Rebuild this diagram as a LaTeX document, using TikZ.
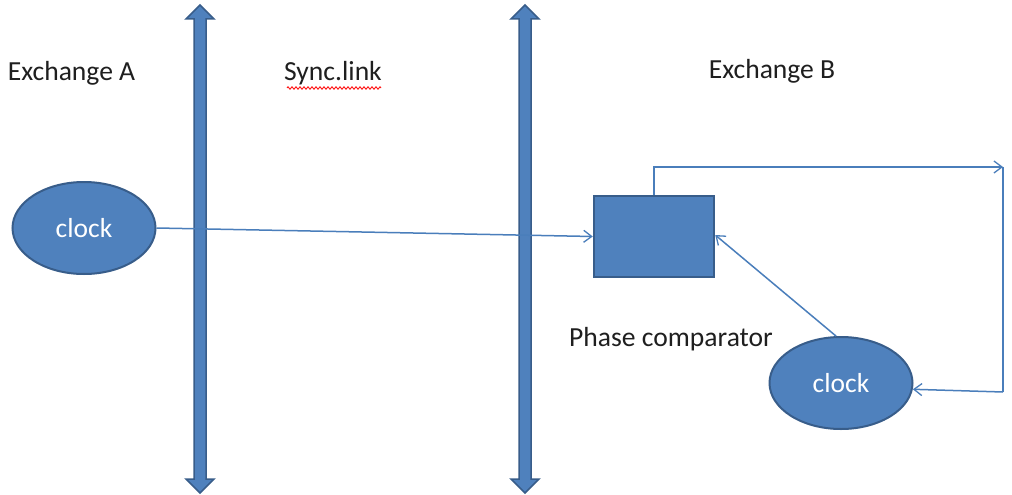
\documentclass[tikz,border=0pt]{standalone}
\usepackage{fontspec}
\setmainfont{Carlito}
\usetikzlibrary{shapes.geometric,arrows.meta,decorations.pathmorphing}
\definecolor{accent}{HTML}{4F81BD}
\definecolor{accentdark}{HTML}{385D8A}
\definecolor{linkblue}{HTML}{4A7EBB}
\definecolor{labeltext}{HTML}{1F1F1F}
\tikzset{
  lbl/.style={font=\fontsize{27.6}{32}\selectfont, text=labeltext, inner sep=0pt},
  clocknode/.style={ellipse, fill=accent, draw=accentdark, line width=2pt,
    minimum width=143pt, minimum height=92pt, inner sep=0pt,
    text=white, font=\fontsize{27.5}{32}\selectfont},
  compbox/.style={rectangle, fill=accent, draw=accentdark, line width=2.5pt,
    minimum width=120pt, minimum height=81pt, inner sep=0pt},
  conn/.style={draw=linkblue, line width=1.5pt, -{Straight Barb[length=8pt,width=12pt,line width=1.3pt]}},
  plain/.style={draw=linkblue, line width=1.5pt},
  dblarrow/.pic={
    \filldraw[fill=accent, draw=accentdark, line width=1.5pt, line join=miter]
      (-6,19) -- (-14,19) -- (0,5) -- (14,19) -- (6,19) -- (6,479)
      -- (14,479) -- (0,493) -- (-14,479) -- (-6,479) -- cycle;
  }
}
\begin{document}
\begin{tikzpicture}[x=1pt, y=-1pt]
\useasboundingbox (0,0) rectangle (1012,495);
\fill[white] (0,0) rectangle (1012,495);

% vertical double arrows
\pic at (200,0) {dblarrow};
\pic at (525,0) {dblarrow};

% labels
\node[lbl] (exA) at (71.5,73) {Exchange A};
\node[lbl] (sync) at (333,73) {Sync.link};
\node[lbl] (exB) at (772,71) {Exchange B};
\node[lbl] (phase) at (671,339) {Phase comparator};
\draw[red, line width=0.8pt, decorate,
  decoration={zigzag, segment length=4pt, amplitude=1.3pt}]
  (287,88) -- (381,88);

% shapes
\node[clocknode] (clockA) at (84,228) {clock};
\node[compbox] (box) at (654,236.5) {};
\node[clocknode] (clockB) at (841,383) {clock};

% connectors
\coordinate (tr) at (1003,167);
\coordinate (br) at (1003,392);
\draw[conn] (clockA.east) -- (box.west);
\draw[conn] (box.north) |- (tr);
\draw[plain] (tr) -- (br);
\draw[conn] (br) -- (clockB.-5);
\draw[conn] (clockB.96) -- ([yshift=1.5pt]box.east);
\end{tikzpicture}
\end{document}
